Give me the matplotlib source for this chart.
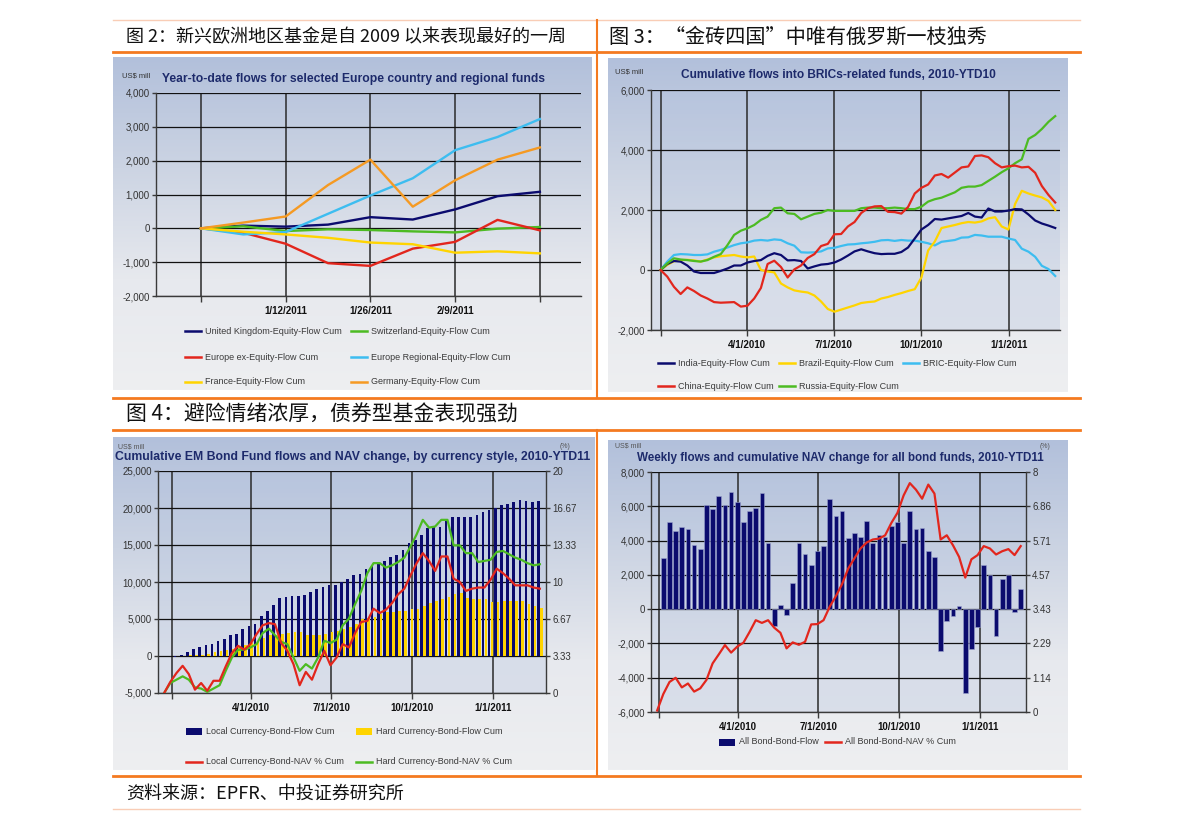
import datetime as dt
import numpy as np
import matplotlib
matplotlib.use('Agg')
import matplotlib.pyplot as plt
from matplotlib.colors import LinearSegmentedColormap
from matplotlib.lines import Line2D
from matplotlib.patches import Rectangle

plt.rcParams['font.family'] = ['Liberation Sans', 'DejaVu Sans']
CJK = ['Noto Sans CJK SC', 'DejaVu Sans']

# ======================= DATA =======================
# --- Figure 2: YTD flows Europe (US$ mill)
ytd_dates = ['12/29/2010', '1/5/2011', '1/12/2011', '1/19/2011', '1/26/2011',
             '2/2/2011', '2/9/2011', '2/16/2011', '2/23/2011']
ytd_tick_labels = ['', '1/12/2011', '1/26/2011', '2/9/2011', '']
uk_cum = [0, 80, 50, 110, 330, 260, 560, 950, 1080]
switz_cum = [0, 60, -80, -30, -50, -90, -120, -10, 40]
europe_ex_cum = [0, -130, -455, -1030, -1110, -600, -400, 250, -60]
europe_reg_cum = [0, -180, -110, 430, 970, 1480, 2310, 2700, 3230]
france_cum = [0, -100, -180, -280, -420, -470, -720, -680, -740]
germany_cum = [0, 170, 350, 1280, 2030, 640, 1420, 2030, 2390]
ytd_yticks = [-2000, -1000, 0, 1000, 2000, 3000, 4000]

# --- Figure 3: BRIC cumulative flows (US$ mill), weekly from 2010-01-01
bric_start = '2010-01-01'
india_cum = [0, 200, 300, 280, 150, -50, -100, -100, -100, -30, 50, 150, 150, 250, 300,
             330, 470, 560, 500, 320, 330, 300, 50, 120, 180, 200, 250, 350, 480, 620,
             690, 620, 560, 530, 540, 540, 600, 750, 1050, 1350, 1500, 1700, 1680, 1720, 1760,
             1800, 1900, 1780, 1750, 2050, 1950, 1950, 1980, 2030, 2020, 1850, 1650, 1550, 1480, 1400]
brazil_cum = [0, 170, 290, 330, 340, 320, 280, 350, 420, 460, 480, 500, 450, 420, 450,
              0, -50, -80, -450, -580, -680, -720, -750, -850, -1050, -1300, -1390, -1320, -1250, -1180,
              -1100, -1070, -1050, -950, -900, -830, -770, -700, -640, -250, 650, 950, 1400, 1450, 1500,
              1560, 1600, 1580, 1620, 1720, 1760, 1450, 1350, 2200, 2640, 2550, 2480, 2420, 2300, 2000]
bric_cum = [0, 280, 500, 530, 520, 500, 500, 520, 610, 670, 750, 830, 890, 920, 980,
            1000, 980, 1020, 1000, 890, 810, 590, 580, 590, 620, 720, 740, 800, 850, 860,
            890, 910, 940, 990, 1000, 970, 1000, 980, 980, 940, 890, 820, 940, 970, 1000,
            1080, 1090, 1170, 1150, 1110, 1110, 1110, 1050, 1000, 710, 610, 440, 140, 30, -200]
china_cum = [0, -220, -560, -800, -580, -700, -850, -950, -1070, -1090, -1080, -1070, -1220, -1190, -950,
             -600, 200, 310, 100, -250, 20, 150, 400, 530, 800, 870, 1190, 1200, 1450, 1600,
             1900, 2060, 2120, 2130, 1940, 1930, 1880, 2100, 2550, 2740, 2850, 3150, 3200, 3080, 3250,
             3420, 3450, 3800, 3820, 3760, 3560, 3420, 3460, 3480, 3420, 3440, 3240, 2800, 2500, 2250]
russia_cum = [0, 220, 390, 350, 330, 300, 280, 330, 440, 530, 830, 1170, 1310, 1390, 1500,
              1670, 1780, 2060, 2080, 1890, 1870, 1690, 1780, 1870, 1910, 2000, 1970, 1970, 1970, 1970,
              2060, 2080, 2080, 2060, 2060, 2080, 2060, 2030, 2030, 2110, 2280, 2360, 2410, 2500, 2590,
              2740, 2780, 2780, 2830, 2970, 3110, 3260, 3390, 3560, 3690, 4370, 4500, 4700, 4940, 5130]
bric_yticks = [-2000, 0, 2000, 4000, 6000]

quarter_ticks = ['2010-01-01', '2010-04-01', '2010-07-01', '2010-10-01', '2011-01-01']
quarter_labels = ['', '4/1/2010', '7/1/2010', '10/1/2010', '1/1/2011']

# --- Figure 4a: EM bond funds by currency style, weekly from 2010-01-06
em_start = '2010-01-06'
local_flow_cum = [-150, 200, 580, 1000, 1200, 1500, 1650, 2000, 2300, 2800, 3000, 3650, 4000, 4350, 5400,
                  6100, 6950, 7850, 8000, 8150, 8050, 8300, 8650, 9050, 9300, 9550, 9650, 10000, 10450, 10900,
                  11100, 11800, 12100, 12450, 12850, 13350, 13650, 14350, 15250, 15700, 16350, 17250, 17400, 17450, 18250,
                  18750, 18800, 18800, 18800, 19050, 19500, 19700, 20000, 20450, 20600, 20750, 21050, 20900, 20800, 20900]
hard_flow_cum = [30, 50, 100, 150, 200, 300, 550, 700, 850, 1000, 1300, 1550, 1750, 2000, 2500,
                 2800, 2850, 3000, 3100, 3200, 3300, 2900, 2800, 2850, 3000, 3300, 3400, 3700, 3900, 4300,
                 4950, 5150, 5300, 5650, 5900, 6000, 6050, 6100, 6350, 6400, 6800, 7100, 7500, 7700, 7950,
                 8400, 8500, 7900, 7650, 7650, 7650, 7300, 7250, 7400, 7450, 7450, 7450, 7000, 6700, 6500]
# NAV lines start two weeks before the first flow bar
local_nav_cum = [0, 1.0, 1.8, 2.45, 1.7, 0.3, 0.9, 0.2, 1.1, 1.1, 2.4, 3.6, 4.25, 3.9, 4.4, 5.3,
                 6.1, 6.3, 6.2, 4.5, 3.8, 2.6, 0.7, 1.9, 1.2, 2.6, 3.8, 2.5, 3.2, 4.4, 4.1,
                 5.4, 6.4, 6.5, 7.6, 7.2, 7.5, 8.1, 8.9, 9.4, 10.6, 11.7, 12.6, 11.9, 11.0, 12.3,
                 12.3, 10.3, 10.0, 9.2, 9.4, 9.5, 9.5, 10.2, 11.2, 10.8, 10.3, 9.7, 9.7, 9.7, 9.5, 9.4]
hard_nav_cum = [0, 0.9, 1.2, 1.5, 1.2, 0.5, 0.4, 0.1, 0.4, 0.7, 2.0, 3.2, 3.9, 3.9, 4.1, 4.4,
                5.4, 5.8, 5.2, 4.6, 4.4, 3.2, 2.0, 2.6, 2.2, 3.2, 4.7, 4.5, 4.8, 6.1, 6.7,
                8.0, 9.2, 10.8, 11.7, 11.7, 11.3, 11.5, 11.8, 12.2, 13.2, 14.3, 15.6, 14.9, 15.0, 15.6,
                15.6, 13.3, 13.3, 12.6, 12.6, 11.8, 11.9, 12.0, 12.7, 12.8, 12.5, 12.2, 12.0, 11.7, 11.5, 11.6]
em_yticks = [-5000, 0, 5000, 10000, 15000, 20000, 25000]
em_rticks = [0, 10/3, 20/3, 10, 40/3, 50/3, 20]
em_rlabels = ['0', '3.33', '6.67', '10', '13.33', '16.67', '20']

# --- Figure 4b: all bond funds weekly flows, weekly from 2010-01-06
allbond_start = '2010-01-06'
allbond_flow = [3000, 5100, 4550, 4800, 4650, 3750, 3500, 6100, 5850, 6600, 6050, 6850, 6250, 5100, 5700,
                5900, 6750, 3850, -1000, 250, -330, 1500, 3850, 3200, 2570, 3380, 3670, 6430, 5460, 5700,
                4150, 4460, 4200, 5170, 3860, 4300, 4200, 4830, 5080, 3880, 5700, 4700, 4730, 3400, 3050,
                -2450, -710, -390, 190, -4920, -2300, -1070, 2600, 2000, -1580, 1750, 2000, -150, 1150]
# NAV line starts one week before the first flow bar
allbond_nav_cum = [0.05, 0.6, 1.0, 1.14, 0.82, 0.95, 0.68, 0.79, 1.07, 1.62, 1.92, 2.23, 1.98, 2.18, 2.31,
                   2.67, 3.06, 2.97, 3.06, 2.81, 2.64, 2.12, 2.32, 2.24, 2.34, 2.92, 2.93, 3.06, 3.51, 3.86,
                   4.26, 4.78, 5.12, 5.45, 5.65, 5.75, 5.78, 5.89, 6.30, 6.64, 7.22, 7.63, 7.41, 7.11, 7.58,
                   7.28, 5.75, 5.89, 5.56, 5.17, 4.48, 5.09, 5.23, 5.53, 5.45, 5.25, 5.36, 5.43, 5.23, 5.53]
ab_yticks = [-6000, -4000, -2000, 0, 2000, 4000, 6000, 8000]
ab_rticks = [i * 8 / 7 for i in range(8)]
ab_rlabels = ['0', '1.14', '2.29', '3.43', '4.57', '5.71', '6.86', '8']

# ======================= STYLE =======================
NAVY = '#0b0b6e'
RED = '#e2261d'
GREEN = '#4cbb22'
SKY = '#3dbdf0'
YELLOW = '#ffd400'
ORANGE = '#f59a23'
TITLE_C = '#1d2a6b'
ORANGE_RULE = '#f47a20'
LIGHT_RULE = '#f9cdb6'

W, H = 1191, 823
fig = plt.figure(figsize=(W / 100, H / 100), dpi=100)
fig.patch.set_facecolor('white')


def rect(x0, y0, x1, y1):
    return [x0 / W, 1 - y1 / H, (x1 - x0) / W, (y1 - y0) / H]


def fx(x):
    return x / W


def fy(y):
    return 1 - y / H


def hrule(y, x0, x1, color, lw):
    fig.add_artist(Line2D([fx(x0), fx(x1)], [fy(y), fy(y)], color=color, lw=lw,
                          transform=fig.transFigure, zorder=5))


def vrule(x, y0, y1, color, lw):
    fig.add_artist(Line2D([fx(x), fx(x)], [fy(y0), fy(y1)], color=color, lw=lw,
                          transform=fig.transFigure, zorder=5))


grad_cmap = LinearSegmentedColormap.from_list('panel', ['#b2c0db', '#ccd4e3', '#e7e9ee', '#eeeff1'])


def panel(x0, y0, x1, y1):
    ax = fig.add_axes(rect(x0, y0, x1, y1), zorder=0)
    ax.imshow(np.linspace(0, 1, 256)[:, None], aspect='auto', cmap=grad_cmap, extent=[0, 1, 0, 1])
    ax.set_axis_off()


def dates(start, n, offset_weeks=0):
    s = dt.datetime.strptime(start, '%Y-%m-%d')
    return [s + dt.timedelta(days=7 * (i + offset_weeks)) for i in range(n)]


def D(s):
    return dt.datetime.strptime(s, '%Y-%m-%d')


def base_style(ax):
    for s in ['top', 'right']:
        ax.spines[s].set_visible(False)
    for s in ['left', 'bottom']:
        ax.spines[s].set_color('#3a3a3a')
        ax.spines[s].set_linewidth(1.0)
    ax.tick_params(axis='y', direction='out', length=3, width=1, color='#3a3a3a',
                   labelsize=7, pad=1.5, labelcolor='#333333')
    ax.tick_params(axis='x', direction='out', length=4, width=1, color='#3a3a3a',
                   labelsize=7, pad=3, labelcolor='#111111')
    ax.xaxis.grid(True, color='#2a2a2a', lw=1.1)
    ax.yaxis.grid(True, color='#111111', lw=0.9)
    ax.set_axisbelow(True)


def right_style(axr):
    for s in ['top', 'left', 'bottom']:
        axr.spines[s].set_visible(False)
    axr.spines['right'].set_color('#3a3a3a')
    axr.spines['right'].set_linewidth(1.0)
    axr.tick_params(axis='y', direction='out', length=3, width=1, color='#3a3a3a',
                    labelsize=7, pad=1.5, labelcolor='#333333')
    axr.patch.set_visible(False)


def leg_line(x, y, color, label):
    fig.add_artist(Line2D([fx(x), fx(x + 16)], [fy(y), fy(y)], color=color, lw=1.8,
                          transform=fig.transFigure, zorder=6))
    fig.text(fx(x + 20), fy(y), label, fontsize=6.5, va='center', ha='left', color='#3a3a3a', zorder=6)


def leg_patch(x, y, color, label):
    fig.add_artist(Rectangle((fx(x), fy(y + 3.5)), 16 / W, 7 / H, facecolor=color, edgecolor='none',
                             transform=fig.transFigure, zorder=6))
    fig.text(fx(x + 20), fy(y), label, fontsize=6.5, va='center', ha='left', color='#3a3a3a', zorder=6)


# ======================= PAGE RULES & HEADERS =======================
hrule(20, 113, 1080, LIGHT_RULE, 1.0)
hrule(52, 113, 1080, ORANGE_RULE, 2.0)
hrule(398, 113, 1080, ORANGE_RULE, 2.0)
hrule(430, 113, 1080, ORANGE_RULE, 2.0)
hrule(776, 113, 1080, ORANGE_RULE, 2.0)
hrule(809, 113, 1080, LIGHT_RULE, 1.0)
vrule(597, 20, 398, ORANGE_RULE, 1.5)
vrule(597, 430, 776, ORANGE_RULE, 1.5)

fig.text(fx(126), fy(37), '图 2：新兴欧洲地区基金是自 2009 以来表现最好的一周',
         family=CJK, fontsize=13, va='center', ha='left', color='#111111')
fig.text(fx(609), fy(37), '图 3：“金砖四国”中唯有俄罗斯一枝独秀',
         family=CJK, fontsize=14.5, va='center', ha='left', color='#111111')
fig.text(fx(126), fy(414), '图 4：避险情绪浓厚，债券型基金表现强劲',
         family=CJK, fontsize=15, va='center', ha='left', color='#111111')
fig.text(fx(126), fy(794), '资料来源：EPFR、中投证券研究所',
         family=CJK, fontsize=13, va='center', ha='left', color='#111111')

# ======================= CHART 1 =======================
panel(113, 57, 592, 390)
ax1 = fig.add_axes(rect(156, 93, 581, 296), zorder=2)
ax1.patch.set_alpha(0)
x1 = np.arange(len(ytd_dates))
for vals, col in [(uk_cum, NAVY), (switz_cum, GREEN), (europe_ex_cum, RED),
                  (europe_reg_cum, SKY), (france_cum, YELLOW), (germany_cum, ORANGE)]:
    ax1.plot(x1, vals, color=col, lw=1.7)
ax1.set_xlim(-1.06, 8.97)
ax1.set_ylim(-2000, 4000)
ax1.set_yticks(ytd_yticks)
ax1.set_yticklabels([f'{v:,}' for v in ytd_yticks])
ax1.set_xticks(x1[::2])
ax1.set_xticklabels(ytd_tick_labels, fontweight='bold')
base_style(ax1)
fig.text(fx(122), fy(76), 'US$ mill', fontsize=5.5, color='#333333', va='center')
fig.text(fx(162), fy(79), 'Year-to-date flows for selected Europe country and regional funds',
         fontsize=8.7, fontweight='bold', color=TITLE_C, va='center')
leg_line(185, 331, NAVY, 'United Kingdom-Equity-Flow Cum')
leg_line(351, 331, GREEN, 'Switzerland-Equity-Flow Cum')
leg_line(185, 357, RED, 'Europe ex-Equity-Flow Cum')
leg_line(351, 357, SKY, 'Europe Regional-Equity-Flow Cum')
leg_line(185, 382, YELLOW, 'France-Equity-Flow Cum')
leg_line(351, 382, ORANGE, 'Germany-Equity-Flow Cum')

# ======================= CHART 2 =======================
panel(608, 58, 1068, 392)
ax2 = fig.add_axes(rect(651, 90, 1060, 330), zorder=2)
ax2.set_facecolor((0.70, 0.76, 0.87, 0.30))
bdates = dates(bric_start, len(india_cum))
for vals, col in [(bric_cum, SKY), (brazil_cum, YELLOW), (india_cum, NAVY),
                  (russia_cum, GREEN), (china_cum, RED)]:
    ax2.plot(bdates, vals, color=col, lw=1.6)
ax2.set_xlim(D('2009-12-22'), D('2011-02-23'))
ax2.set_ylim(-2000, 6000)
ax2.set_yticks(bric_yticks)
ax2.set_yticklabels([f'{v:,}' for v in bric_yticks])
ax2.set_xticks([D(s) for s in quarter_ticks])
ax2.set_xticklabels(quarter_labels, fontweight='bold')
base_style(ax2)
fig.text(fx(615), fy(72), 'US$ mill', fontsize=5.5, color='#333333', va='center')
fig.text(fx(838), fy(75), 'Cumulative flows into BRICs-related funds, 2010-YTD10',
         fontsize=8.6, fontweight='bold', color=TITLE_C, va='center', ha='center')
leg_line(658, 363, NAVY, 'India-Equity-Flow Cum')
leg_line(779, 363, YELLOW, 'Brazil-Equity-Flow Cum')
leg_line(903, 363, SKY, 'BRIC-Equity-Flow Cum')
leg_line(658, 386, RED, 'China-Equity-Flow Cum')
leg_line(779, 386, GREEN, 'Russia-Equity-Flow Cum')

# ======================= CHART 3 =======================
panel(113, 437, 595, 770)
ax3 = fig.add_axes(rect(158, 471, 546, 693), zorder=2)
ax3.set_facecolor((0.70, 0.76, 0.87, 0.30))
edates = dates(em_start, len(local_flow_cum))
ax3.bar([d - dt.timedelta(days=1.6) for d in edates], local_flow_cum, width=3.0, color=NAVY, zorder=2)
ax3.bar([d + dt.timedelta(days=1.6) for d in edates], hard_flow_cum, width=3.0, color=YELLOW, zorder=2)
ax3.set_xlim(D('2009-12-16'), D('2011-03-02'))
ax3.set_ylim(-5000, 25000)
ax3.set_yticks(em_yticks)
ax3.set_yticklabels([f'{v:,}' for v in em_yticks])
ax3.set_xticks([D(s) for s in quarter_ticks])
ax3.set_xticklabels(quarter_labels, fontweight='bold')
base_style(ax3)
ax3r = ax3.twinx()
ndates = dates(em_start, len(local_nav_cum), offset_weeks=-2)
ax3r.plot(ndates, hard_nav_cum, color=GREEN, lw=1.6)
ax3r.plot(ndates, local_nav_cum, color=RED, lw=1.6)
ax3r.set_ylim(0, 20)
ax3r.set_yticks(em_rticks)
ax3r.set_yticklabels(em_rlabels)
right_style(ax3r)
fig.text(fx(118), fy(447), 'US$ mill', fontsize=5, color='#555555', va='center')
fig.text(fx(560), fy(447), '(%)', fontsize=5, color='#555555', va='center')
fig.text(fx(115), fy(457), 'Cumulative EM Bond Fund flows and NAV change, by currency style, 2010-YTD11',
         fontsize=8.8, fontweight='bold', color=TITLE_C, va='center')
leg_patch(186, 731, NAVY, 'Local Currency-Bond-Flow Cum')
leg_patch(356, 731, YELLOW, 'Hard Currency-Bond-Flow Cum')
leg_line(186, 762, RED, 'Local Currency-Bond-NAV % Cum')
leg_line(356, 762, GREEN, 'Hard Currency-Bond-NAV % Cum')

# ======================= CHART 4 =======================
panel(608, 440, 1068, 770)
ax4 = fig.add_axes(rect(651, 472, 1026, 712), zorder=2)
ax4.set_facecolor((0.70, 0.76, 0.87, 0.30))
adates = dates(allbond_start, len(allbond_flow))
ax4.bar(adates, allbond_flow, width=5.3, color=NAVY, edgecolor='#9aa2cc', linewidth=0.4, zorder=2)
ax4.set_xlim(D('2009-12-23'), D('2011-02-22'))
ax4.set_ylim(-6000, 8000)
ax4.set_yticks(ab_yticks)
ax4.set_yticklabels([f'{v:,}' for v in ab_yticks])
ax4.set_xticks([D(s) for s in quarter_ticks])
ax4.set_xticklabels(quarter_labels, fontweight='bold')
base_style(ax4)
ax4r = ax4.twinx()
ab_nav_dates = dates(allbond_start, len(allbond_nav_cum), offset_weeks=-1)
ax4r.plot(ab_nav_dates, allbond_nav_cum, color=RED, lw=1.6)
ax4r.set_ylim(0, 8)
ax4r.set_yticks(ab_rticks)
ax4r.set_yticklabels(ab_rlabels)
right_style(ax4r)
fig.text(fx(615), fy(446), 'US$ mill', fontsize=5, color='#555555', va='center')
fig.text(fx(1040), fy(446), '(%)', fontsize=5, color='#555555', va='center')
fig.text(fx(840), fy(458), 'Weekly flows and cumulative NAV change for all bond funds, 2010-YTD11',
         fontsize=8.4, fontweight='bold', color=TITLE_C, va='center', ha='center')
leg_patch(719, 742, NAVY, 'All Bond-Bond-Flow')
leg_line(825, 742, RED, 'All Bond-Bond-NAV % Cum')

fig.savefig('out.png', dpi=100)
